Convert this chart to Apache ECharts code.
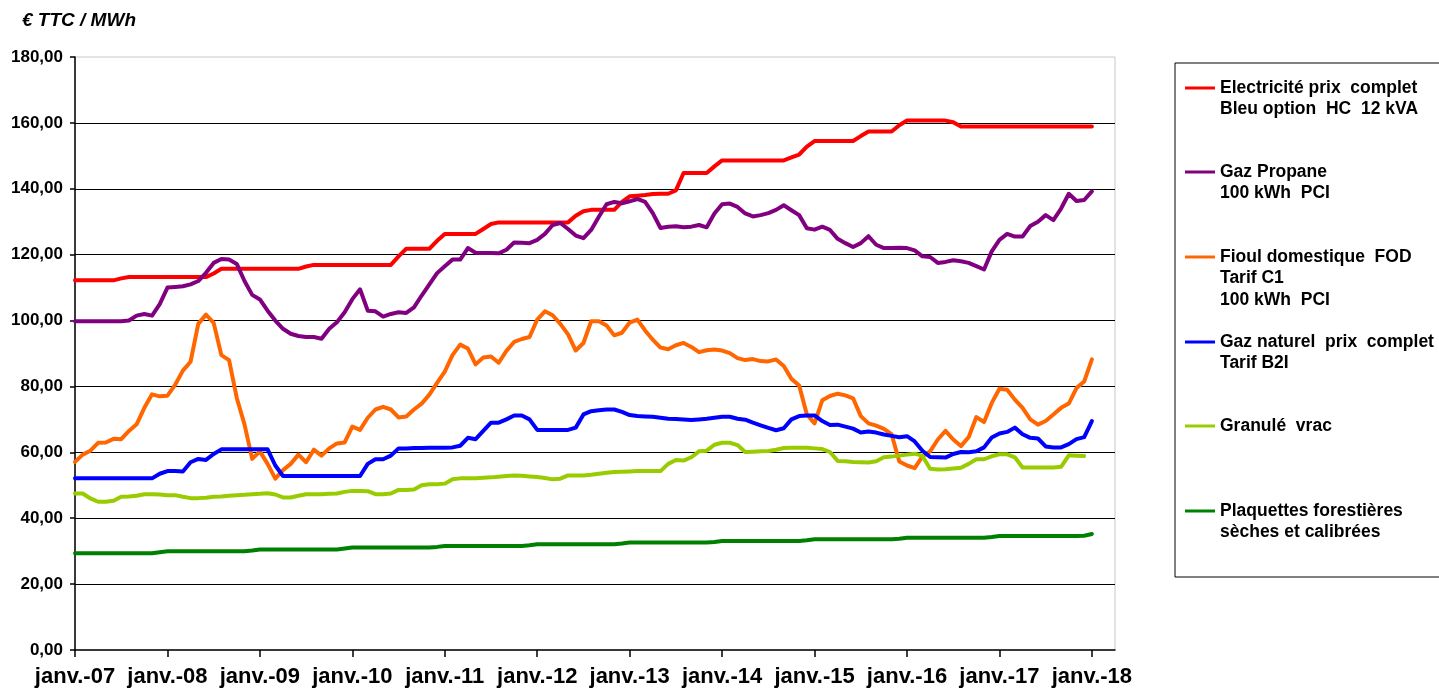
<!DOCTYPE html>
<html>
<head>
<meta charset="utf-8">
<script src="https://cdn.jsdelivr.net/npm/echarts@6/dist/echarts.min.js"></script>
<style>
  html, body { margin: 0; padding: 0; background: #fff; }
  #chart { width: 1439px; height: 691px; }
</style>
</head>
<body>
<div id="chart"></div>
<script>
// ticks: one every january, months counted from janv.-07
const tickLabels = ['janv.-07', 'janv.-08', 'janv.-09', 'janv.-10', 'janv.-11', 'janv.-12',
  'janv.-13', 'janv.-14', 'janv.-15', 'janv.-16', 'janv.-17', 'janv.-18'];

const seriesNames = [
  'Electricité prix  complet\nBleu option  HC  12 kVA',
  'Gaz Propane\n100 kWh  PCI',
  'Fioul domestique  FOD\nTarif C1\n100 kWh  PCI',
  'Gaz naturel  prix  complet\nTarif B2I',
  'Granulé  vrac',
  'Plaquettes forestières\nsèches et calibrées'
];

// monthly prices, € TTC / MWh (one row per year, last value = janv.-18)
const electricite = [
  112.2, 112.2, 112.2, 112.2, 112.2, 112.2, 112.8, 113.2, 113.2, 113.2, 113.2, 113.2,
  113.2, 113.2, 113.2, 113.2, 113.2, 113.2, 114.3, 115.7, 115.7, 115.7, 115.7, 115.7,
  115.7, 115.7, 115.7, 115.7, 115.7, 115.7, 116.4, 116.9, 116.9, 116.9, 116.9, 116.9,
  116.9, 116.9, 116.9, 116.9, 116.9, 116.9, 119.5, 121.8, 121.8, 121.8, 121.8, 124.2,
  126.3, 126.3, 126.3, 126.3, 126.3, 127.8, 129.3, 129.8, 129.8, 129.8, 129.8, 129.8,
  129.8, 129.8, 129.8, 129.8, 129.8, 131.8, 133.2, 133.6, 133.6, 133.6, 133.6, 136.0,
  137.7, 137.9, 138.1, 138.4, 138.5, 138.5, 139.5, 144.8, 144.8, 144.8, 144.8, 146.8,
  148.6, 148.6, 148.6, 148.6, 148.6, 148.6, 148.6, 148.6, 148.6, 149.5, 150.4, 152.8,
  154.5, 154.5, 154.5, 154.5, 154.5, 154.5, 156.0, 157.4, 157.4, 157.4, 157.4, 159.3,
  160.7, 160.7, 160.7, 160.7, 160.7, 160.7, 160.2, 158.9, 158.9, 158.9, 158.9, 158.9,
  158.9, 158.9, 158.9, 158.9, 158.9, 158.9, 158.9, 158.9, 158.9, 158.9, 158.9, 158.9,
  158.9
];

const propane = [
  99.8, 99.8, 99.8, 99.8, 99.8, 99.8, 99.8, 100.0, 101.5, 102.0, 101.5, 105.0,
  110.0, 110.2, 110.4, 111.0, 112.0, 114.5, 117.5, 118.7, 118.5, 117.2, 112.0, 107.8,
  106.4, 103.0, 100.0, 97.5, 96.0, 95.3, 95.0, 95.0, 94.5, 97.5, 99.5, 102.5,
  106.5, 109.5, 103.0, 102.8, 101.2, 102.0, 102.5, 102.3, 104.0, 107.6, 111.0, 114.4,
  116.5, 118.5, 118.5, 122.0, 120.6, 120.5, 120.5, 120.4, 121.5, 123.7, 123.6, 123.5,
  124.5, 126.3, 129.0, 129.6, 127.8, 125.8, 125.0, 127.5, 131.5, 135.3, 136.0, 135.6,
  136.2, 136.9, 136.0, 132.6, 128.1, 128.5, 128.6, 128.3, 128.5, 129.0, 128.3, 132.5,
  135.3, 135.5, 134.5, 132.5, 131.6, 132.0, 132.6, 133.6, 135.0, 133.5, 132.0, 128.0,
  127.6, 128.5, 127.5, 124.8, 123.5, 122.3, 123.5, 125.6, 123.0, 122.0, 122.0, 122.1,
  122.0, 121.3, 119.5, 119.3, 117.5, 117.8, 118.3, 118.0, 117.5, 116.5, 115.5, 121.0,
  124.5, 126.3, 125.5, 125.5, 128.7, 130.0, 132.0, 130.5, 134.0, 138.5, 136.3, 136.6,
  139.2
];

const fioul = [
  57.1, 59.3, 60.5, 62.9, 63.0, 64.1, 64.0, 66.5, 68.5, 73.5, 77.6, 77.0,
  77.2, 80.5, 84.8, 87.5, 99.0, 101.8, 99.3, 89.5, 88.0, 76.5, 68.5, 58.0,
  60.3, 56.5, 52.0, 54.6, 56.5, 59.3, 57.0, 60.8, 59.0, 61.2, 62.7, 63.0,
  67.8, 66.8, 70.5, 73.0, 73.8, 73.0, 70.6, 70.9, 73.0, 74.8, 77.5, 81.1,
  84.5, 89.5, 92.7, 91.5, 86.7, 88.8, 89.1, 87.2, 90.8, 93.5, 94.4, 95.0,
  100.3, 102.8, 101.6, 99.0, 95.8, 90.9, 93.2, 99.8, 99.8, 98.5, 95.5, 96.3,
  99.4, 100.3, 97.0, 94.2, 91.8, 91.3, 92.5, 93.2, 92.0, 90.4, 91.0, 91.2,
  90.9, 90.1, 88.6, 88.0, 88.3, 87.7, 87.6, 88.2, 86.2, 82.3, 80.3, 71.5,
  68.8, 75.8, 77.1, 77.8, 77.3, 76.4, 71.0, 68.8, 68.1, 67.1, 65.5, 57.2,
  56.0, 55.2, 58.8, 60.3, 63.9, 66.5, 63.9, 61.9, 64.6, 70.7, 69.2, 75.0,
  79.3, 79.0, 76.0, 73.5, 70.0, 68.4, 69.5, 71.5, 73.5, 74.8, 79.5, 81.5,
  88.2
];

const gazNaturel = [
  52.1, 52.1, 52.1, 52.1, 52.1, 52.1, 52.1, 52.1, 52.1, 52.1, 52.1, 53.5,
  54.3, 54.3, 54.2, 57.0, 58.0, 57.7, 59.5, 60.9, 60.9, 60.9, 60.9, 60.9,
  60.9, 60.9, 56.0, 52.8, 52.8, 52.8, 52.8, 52.8, 52.8, 52.8, 52.8, 52.8,
  52.8, 52.8, 56.5, 57.9, 57.9, 59.0, 61.2, 61.2, 61.3, 61.3, 61.4, 61.4,
  61.4, 61.5, 62.0, 64.4, 64.0, 66.5, 69.0, 69.0, 70.0, 71.2, 71.2, 70.0,
  66.8, 66.8, 66.8, 66.8, 66.8, 67.5, 71.5, 72.5, 72.8, 73.0, 73.0, 72.3,
  71.3, 71.0, 70.9, 70.8, 70.5, 70.2, 70.1, 70.0, 69.8, 70.0, 70.2, 70.5,
  70.8, 70.8, 70.2, 69.9, 69.0, 68.2, 67.4, 66.7, 67.3, 70.0, 71.0, 71.2,
  71.2, 69.5, 68.3, 68.4, 67.8, 67.2, 66.0, 66.3, 66.0, 65.4, 65.0, 64.6,
  64.9, 63.3, 60.5, 58.6, 58.5, 58.4, 59.5, 60.1, 60.0, 60.3, 61.5, 64.5,
  65.7, 66.2, 67.5, 65.5, 64.4, 64.2, 61.8, 61.5, 61.5, 62.5, 64.0, 64.6,
  69.5
];

const granule = [
  47.5, 47.5, 46.0, 45.0, 45.0, 45.3, 46.5, 46.6, 46.8, 47.3, 47.3, 47.2,
  47.0, 47.0, 46.5, 46.1, 46.1, 46.2, 46.5, 46.6, 46.8, 47.0, 47.1, 47.3,
  47.4, 47.6, 47.2, 46.3, 46.3, 46.8, 47.3, 47.3, 47.3, 47.4, 47.5, 48.0,
  48.3, 48.3, 48.2, 47.3, 47.3, 47.5, 48.6, 48.6, 48.7, 50.0, 50.3, 50.3,
  50.5, 51.8, 52.1, 52.1, 52.1, 52.3, 52.4, 52.6, 52.8, 53.0, 52.9, 52.7,
  52.5, 52.2, 51.8, 52.0, 53.0, 53.0, 53.0, 53.2, 53.5, 53.8, 54.0, 54.1,
  54.2, 54.3, 54.3, 54.3, 54.3, 56.5, 57.7, 57.5, 58.5, 60.3, 60.5, 62.3,
  62.9, 62.9, 62.2, 60.1, 60.2, 60.3, 60.4, 60.8, 61.3, 61.4, 61.4, 61.4,
  61.2, 61.0, 60.1, 57.4, 57.3, 57.1, 57.0, 56.9, 57.3, 58.5, 58.7, 59.0,
  59.3, 59.6, 58.9, 55.0, 54.8, 54.9, 55.1, 55.3, 56.5, 57.9, 57.9, 58.8,
  59.4, 59.4, 58.5, 55.4, 55.4, 55.4, 55.4, 55.4, 55.6, 59.1, 59.0, 58.9,
  null
];

const plaquettes = [
  29.4, 29.4, 29.4, 29.4, 29.4, 29.4, 29.4, 29.4, 29.4, 29.4, 29.4, 29.7,
  30.0, 30.0, 30.0, 30.0, 30.0, 30.0, 30.0, 30.0, 30.0, 30.0, 30.0, 30.2,
  30.5, 30.5, 30.5, 30.5, 30.5, 30.5, 30.5, 30.5, 30.5, 30.5, 30.5, 30.8,
  31.1, 31.1, 31.1, 31.1, 31.1, 31.1, 31.1, 31.1, 31.1, 31.1, 31.1, 31.3,
  31.6, 31.6, 31.6, 31.6, 31.6, 31.6, 31.6, 31.6, 31.6, 31.6, 31.6, 31.8,
  32.1, 32.1, 32.1, 32.1, 32.1, 32.1, 32.1, 32.1, 32.1, 32.1, 32.1, 32.3,
  32.6, 32.6, 32.6, 32.6, 32.6, 32.6, 32.6, 32.6, 32.6, 32.6, 32.6, 32.8,
  33.1, 33.1, 33.1, 33.1, 33.1, 33.1, 33.1, 33.1, 33.1, 33.1, 33.1, 33.3,
  33.6, 33.6, 33.6, 33.6, 33.6, 33.6, 33.6, 33.6, 33.6, 33.6, 33.6, 33.8,
  34.1, 34.1, 34.1, 34.1, 34.1, 34.1, 34.1, 34.1, 34.1, 34.1, 34.1, 34.3,
  34.6, 34.6, 34.6, 34.6, 34.6, 34.6, 34.6, 34.6, 34.6, 34.6, 34.6, 34.7,
  35.2
];

const allValues = [electricite, propane, fioul, gazNaturel, granule, plaquettes];
const colors = ['#ff0000', '#800080', '#ff6600', '#0000ff', '#99cc00', '#008000'];

const FONT = '"Liberation Sans", Arial, sans-serif';
const legendCenters = [88, 172, 257, 342, 426, 511];  // y of each legend line sample
const LH = 21.5;

const chart = echarts.init(document.getElementById('chart'));

const tickMonths = tickLabels.map((t, i) => i * 12);

const option = {
  animation: false,
  backgroundColor: '#fff',
  title: {
    text: '€ TTC / MWh',
    left: 17,
    top: 6,
    textStyle: { fontFamily: FONT, fontSize: 19, fontWeight: 'bold', fontStyle: 'italic', color: '#000' }
  },
  graphic: [{
    type: 'rect',
    z: 0,
    shape: { x: 1175, y: 63, width: 280, height: 514 },
    style: { fill: '#fff', stroke: '#000', lineWidth: 1 }
  }],
  legend: seriesNames.map((name, i) => {
    const n = name.split('\n').length;
    const lines = 2 * n - 1;
    return {
      data: [name],
      left: 1185,
      top: legendCenters[i] - lines * LH / 2,
      padding: 0,
      icon: 'rect',
      itemWidth: 30,
      itemHeight: 3,
      itemGap: 0,
      selectedMode: false,
      formatter: nm => '\n'.repeat(n - 1) + nm,
      textStyle: { fontFamily: FONT, fontSize: 17.5, fontWeight: 'bold', color: '#000', lineHeight: LH }
    };
  }),
  grid: {
    left: 75,
    top: 57,
    right: 324,
    bottom: 41,
    show: true,
    borderColor: '#c8c8c8',
    borderWidth: 1,
    backgroundColor: 'transparent'
  },
  xAxis: {
    type: 'value',
    min: 0,
    max: 135,
    interval: 12,
    axisLine: { show: true, onZero: false, lineStyle: { color: '#000', width: 1.5 } },
    axisTick: { show: true, length: 7, customValues: tickMonths, lineStyle: { color: '#000', width: 1.5 } },
    splitLine: { show: false },
    axisLabel: {
      customValues: tickMonths,
      margin: 16,
      formatter: v => tickLabels[Math.round(v / 12)] || '',
      fontFamily: FONT,
      fontSize: 22,
      fontWeight: 'bold',
      color: '#000'
    }
  },
  yAxis: {
    type: 'value',
    min: 0,
    max: 180,
    interval: 20,
    axisLine: { show: true, lineStyle: { color: '#000', width: 1.5 } },
    axisTick: { show: true, length: 5, lineStyle: { color: '#000', width: 1.5 } },
    splitLine: { show: true, showMinLine: false, showMaxLine: false, lineStyle: { color: '#000', width: 1 } },
    axisLabel: {
      margin: 12,
      formatter: v => v.toFixed(2).replace('.', ','),
      fontFamily: FONT,
      fontSize: 17,
      fontWeight: 'bold',
      color: '#000'
    }
  },
  series: seriesNames.map((name, i) => ({
    name: name,
    type: 'line',
    symbol: 'none',
    smooth: false,
    connectNulls: false,
    color: colors[i],
    itemStyle: { color: colors[i] },
    lineStyle: { color: colors[i], width: 4, join: 'round', cap: 'round' },
    emphasis: { disabled: true },
    z: 2 + i,
    data: allValues[i].map((v, m) => [m, v])
  }))
};

chart.setOption(option);
</script>
</body>
</html>
